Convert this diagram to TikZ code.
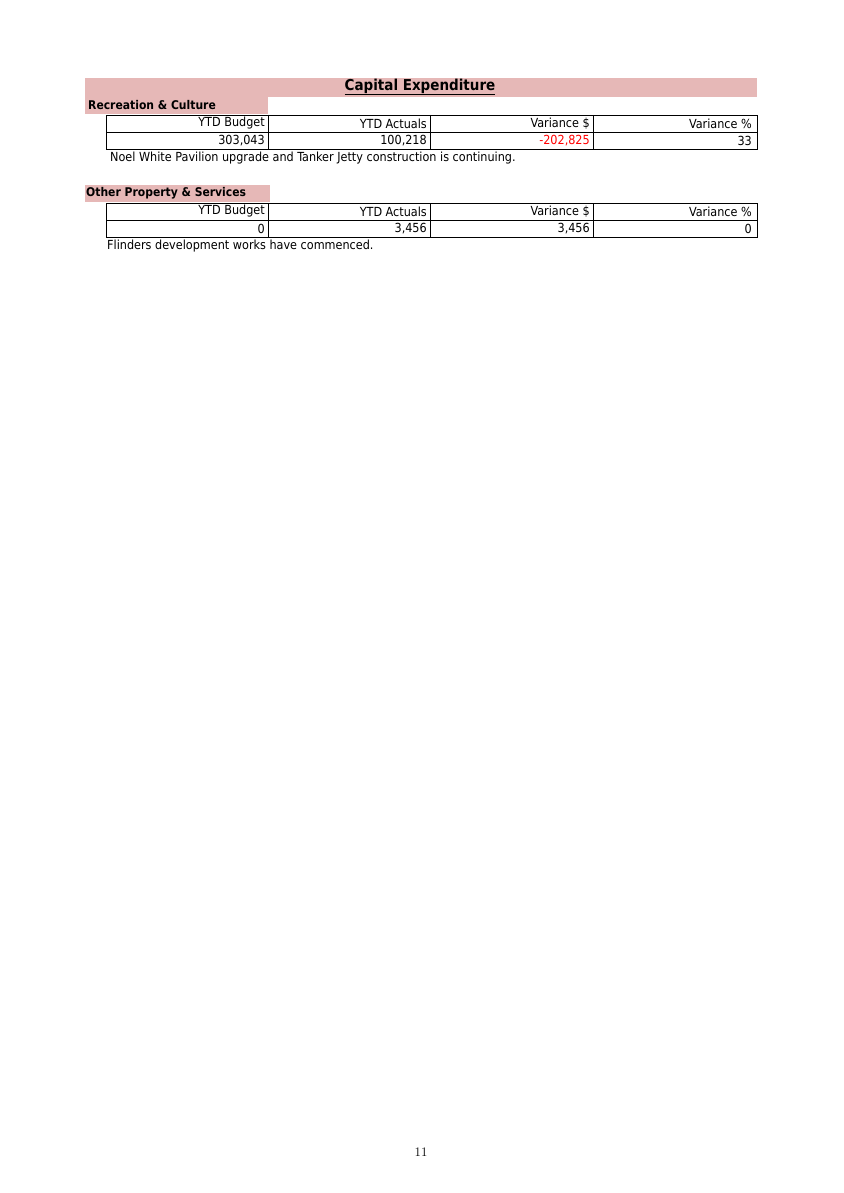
\documentclass[tikz,border=0pt]{standalone}
\usepackage{fontspec}
\setsansfont{DejaVu Sans Condensed}
\usetikzlibrary{positioning}
\definecolor{bandpink}{HTML}{E6B8B7}
\definecolor{negred}{HTML}{FF0000}
\tikzset{
  band/.style = {fill = bandpink, draw = none},
  cell/.style = {draw = black, thick},
  head/.style = {font = \sffamily\bfseries\fontsize{12}{14}\selectfont, anchor = west, inner sep = 0pt},
  num/.style = {font = \sffamily\fontsize{12.5}{14}\selectfont, anchor = east, inner sep = 0pt},
  note/.style = {font = \sffamily\fontsize{12.5}{14}\selectfont, anchor = west, inner sep = 0pt}
}
\begin{document}
\begin{tikzpicture}[x = 1pt, y = -1pt]
  \useasboundingbox (0,0) rectangle (843,1193);
  %% title band
  \fill[band] (85,78) rectangle (757,97);
  \node[font = \sffamily\bfseries\fontsize{15}{18}\selectfont, inner sep = 0pt] (title) at (420,87) {\underline{Capital Expenditure}};
  %% recreation & culture
  \fill[band] (85,97) rectangle (268,114);
  \node[head] (rechead) at (88,105) {Recreation \& Culture};
  \draw[cell] (106,115) rectangle (757,149);
  \draw[cell] (106,132) -- (757,132);
  \foreach \xx in {268,430,593} \draw[cell] (\xx,115) -- (\xx,149);
  \node[num] (recb) at (265,123.5) {YTD Budget};
  \node[num] (reca) at (427,123.5) {YTD Actuals};
  \node[num] (recv) at (590,123.5) {Variance \$};
  \node[num] (recp) at (752,123.5) {Variance \%};
  \node[num] (recbv) at (265,140.5) {303,043};
  \node[num] (recav) at (427,140.5) {100,218};
  \node[num, text = negred] (recvv) at (590,140.5) {-202,825};
  \node[num] (recpv) at (752,140.5) {33};
  \node[note] (recnote) at (110,158) {Noel White Pavilion upgrade and Tanker Jetty construction is continuing.};
  %% other property & services
  \fill[band] (85,185) rectangle (270,202);
  \node[head] (ophead) at (86,193) {Other Property \& Services};
  \draw[cell] (106,203) rectangle (757,237);
  \draw[cell] (106,220) -- (757,220);
  \foreach \xx in {268,430,593} \draw[cell] (\xx,203) -- (\xx,237);
  \node[num] (opb) at (265,211.5) {YTD Budget};
  \node[num] (opa) at (427,211.5) {YTD Actuals};
  \node[num] (opv) at (590,211.5) {Variance \$};
  \node[num] (opp) at (752,211.5) {Variance \%};
  \node[num] (opbv) at (265,228.5) {0};
  \node[num] (opav) at (427,228.5) {3,456};
  \node[num] (opvv) at (590,228.5) {3,456};
  \node[num] (oppv) at (752,228.5) {0};
  \node[note] (opnote) at (107,246) {Flinders development works have commenced.};
  %% page number
  \node[font = \fontsize{13}{15}\selectfont] (pagenum) at (421,1152) {11};
\end{tikzpicture}
\end{document}
